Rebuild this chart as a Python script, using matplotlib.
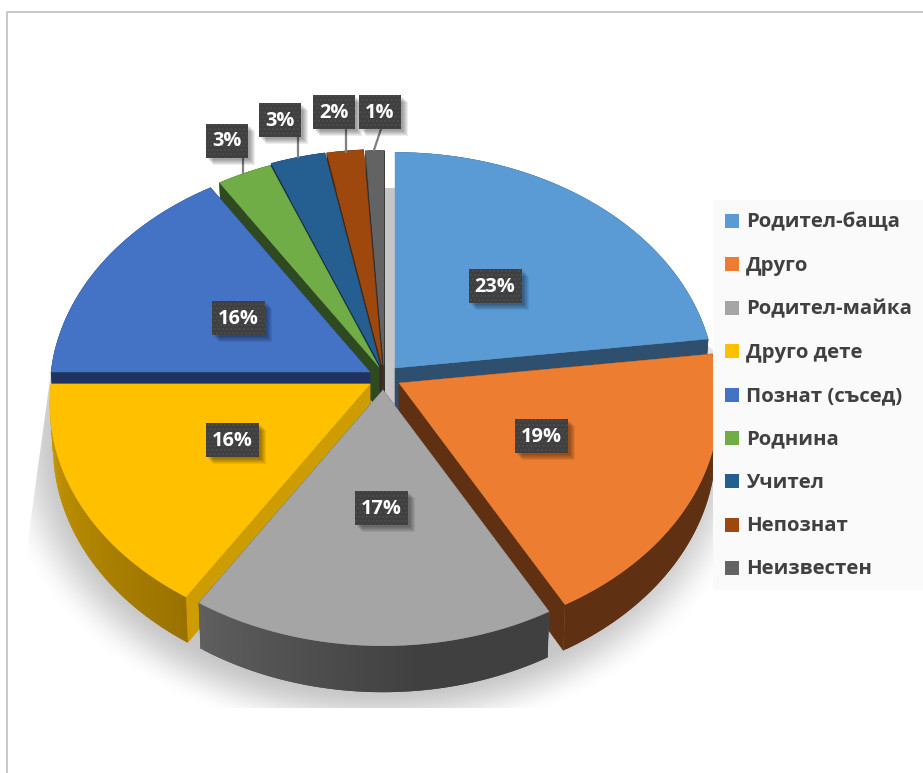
"""
3D exploded pie chart, drawn from plain polygons
"""

import numpy as np
import matplotlib
matplotlib.use('Agg')
import matplotlib.pyplot as plt
from matplotlib.patches import Polygon, Rectangle

# Data
categories = ['Родител-баща', 'Друго', 'Родител-майка', 'Друго дете', 'Познат (съсед)',
              'Роднина', 'Учител', 'Непознат', 'Неизвестен']
values = [23, 19, 17, 16, 16, 3, 3, 2, 1]

# Colours
top_colors = ['#5B9BD5', '#ED7D31', '#A5A5A5', '#FFC000', '#4472C4',
              '#70AD47', '#255E91', '#9E480E', '#636363']
radial_colors = ['#2E4F6E', '#5F3112', '#555555', '#CC9C00', '#1F3360',
                 '#2F4A20', '#12304B', '#4F2407', '#333333']
wall_start = ['#2E4F6E', '#5F3112', '#5E5E5E', '#CC9C00', '#1F3360',
              '#2F4A20', '#12304B', '#4F2407', '#333333']
wall_end = ['#2E4F6E', '#5F3112', '#404040', '#9A7200', '#1F3360',
            '#2F4A20', '#12304B', '#4F2407', '#333333']

# Layout in pixels of the 923x773 picture
apex_x = [395, 399, 383, 370, 370, 379, 380, 382, 384]
apex_y = [368, 383, 390, 384, 372, 367, 365, 365, 366]
label_x = [495, 541, 381, 232, 238, 227, 280, 334, 380]
label_y = [286, 436, 508, 440, 318, 141, 120, 112, 112]
leader_low_x = [None, None, None, None, None, 243, 298, 346, 374]
leader_low_y = [None, None, None, None, None, 173, 157, 152, 150]
leader_top_x = [None, None, None, None, None, 243, 298, 346, 381]

RX = 319
RY = 234
PERSP = 0.085
DEPTH = 42.5

TEXT_FONT = ['Open Sans', 'DejaVu Sans']


def project(theta, px, py):
    """Point on the rim of a slice, theta clockwise from the top"""
    u = np.sin(theta)
    v = -np.cos(theta)
    s = 1 / (1 - PERSP * v)
    return px + RX * u * s, py + RY * v * s, s


def blend(c1, c2, t):
    a = np.array(matplotlib.colors.to_rgb(c1))
    b = np.array(matplotlib.colors.to_rgb(c2))
    return tuple(a + (b - a) * t)


def quad(ax, pts, color, z):
    ax.add_patch(Polygon(pts, closed=True, facecolor=color, edgecolor=color,
                         linewidth=0.4, zorder=z))


fig = plt.figure(figsize=(9.23, 7.73), dpi=100)
ax = fig.add_axes([0, 0, 1, 1])

# Soft shadow below the pie
yy, xx = np.mgrid[0:773, 0:923]
dist = np.sqrt(((xx - 378) / 385.0) ** 2 + ((yy - 440) / 300.0) ** 2)
alpha = np.clip((1 - dist) / 0.18, 0, 1)
alpha = alpha * alpha * (3 - 2 * alpha)
shadow = np.zeros((773, 923, 4))
shadow[..., :3] = 0.78
shadow[..., 3] = alpha
img = ax.imshow(shadow, extent=(0, 923, 773, 0), aspect='auto', zorder=1)
clip = Polygon([(54, 350), (100, 300), (150, 240), (380, 188), (395, 188), (600, 250),
                (713, 350), (713, 708), (28, 708), (28, 540)], closed=True,
               transform=ax.transData)
img.set_clip_path(clip)

# Frame of the picture
ax.plot([7, 7, 923], [773, 12, 12], color='#BFBFBF', linewidth=1.2, zorder=2)

# Slices, from the back to the front
edges = np.cumsum([0] + values) / sum(values) * 2 * np.pi
mids = (edges[:-1] + edges[1:]) / 2
order = sorted(range(len(values)), key=lambda i: -np.cos(mids[i]))

z = 3
for i in order:
    px, py = apex_x[i], apex_y[i]
    thetas = np.linspace(edges[i], edges[i + 1], max(int(values[i] * 6), 8))
    rim = [project(t, px, py) for t in thetas]
    top = [(x, y) for x, y, s in rim]

    # bottom edge leans a little to the middle
    bottom = [(px + (x - px) * 0.99, y + DEPTH * s) for x, y, s in rim]
    apex_low = (px, py + DEPTH)

    # Radial walls
    quad(ax, [(px, py), top[0], bottom[0], apex_low], radial_colors[i], z)
    quad(ax, [(px, py), top[-1], bottom[-1], apex_low], radial_colors[i], z)

    # Outer wall, shaded one strip at a time
    # the gradient runs left to right on screen, each strip covers the seam of the one before
    n = len(top) - 1
    going_right = top[-1][0] > top[0][0]
    k_order = range(n) if going_right else range(n - 1, -1, -1)
    for k in k_order:
        t = k / max(n - 1, 1)
        if not going_right:
            t = 1 - t
        if wall_start[i] == '#5E5E5E':
            # grey one is already at its darkest before the middle of the arc
            t = min(t * 1.6, 1)
        col = blend(wall_start[i], wall_end[i], t)
        k2 = min(k + 2, n) if going_right else k + 1
        k1 = k if going_right else max(k - 1, 0)
        ax.add_patch(Polygon([top[k1], top[k2], bottom[k2], bottom[k1]], closed=True,
                             facecolor=col, edgecolor='none', zorder=z))

    # Top face
    ax.add_patch(Polygon([(px, py)] + top, closed=True, facecolor=top_colors[i],
                         edgecolor=top_colors[i], linewidth=0.3, zorder=z + 0.5))
    z += 1

# Data labels
for i, val in enumerate(values):
    text = f'{val}%'
    w = 53 if val >= 10 else 42
    h = 34
    x0 = label_x[i] - w / 2
    y0 = label_y[i] - h / 2
    if leader_low_x[i] is not None:
        ax.plot([leader_low_x[i], leader_top_x[i]], [leader_low_y[i], y0 + h],
                color='#7F7F7F', linewidth=1.6, zorder=29)
    for off in [7, 6, 5, 4, 3, 2]:
        ax.add_patch(Rectangle((x0 + off, y0 + off), w, h, facecolor='black', alpha=0.07,
                               linewidth=0, zorder=30))
    ax.add_patch(Rectangle((x0, y0), w, h, facecolor='#3F3F3F', edgecolor='#4D4D4D',
                           hatch='....', linewidth=0, zorder=31))
    ax.text(label_x[i], label_y[i] + 0.5, text, color='white', fontsize=14.4, fontweight='bold',
            family=TEXT_FONT, ha='center', va='center', zorder=32)

# Legend
ax.add_patch(Rectangle((713, 200), 210, 390, facecolor='#FAFAFA', edgecolor='none', zorder=33))
legend_y = np.linspace(221, 568, len(categories))
for i, name in enumerate(categories):
    ax.add_patch(Rectangle((725, legend_y[i] - 7), 14, 14, facecolor=top_colors[i],
                           edgecolor='none', zorder=34))
    ax.text(746, legend_y[i] + 1.5, name, color='#404040', fontsize=14.7, fontweight='bold',
            family=TEXT_FONT, ha='left', va='center', zorder=34)

ax.set_xlim(0, 923)
ax.set_ylim(773, 0)
ax.axis('off')

plt.savefig('out.png', dpi=100, facecolor='white')
plt.close()
